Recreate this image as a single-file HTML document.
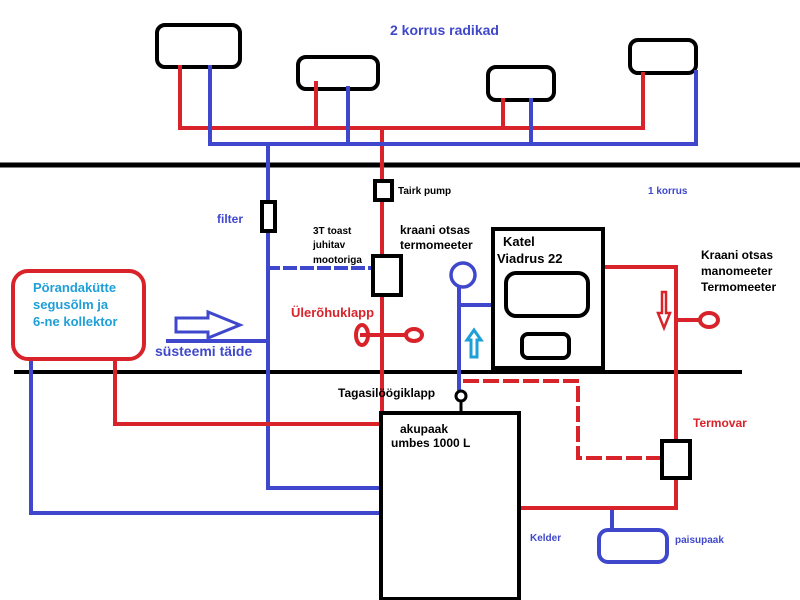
<!DOCTYPE html>
<html><head><meta charset="utf-8"><style>
body{margin:0;background:#fff}
svg{display:block}
text{font-family:"Liberation Sans",sans-serif;font-weight:bold}
</style></head><body>
<svg width="800" height="600" viewBox="0 0 800 600">
<g fill="none" stroke-linecap="square">
<!-- floors -->
<line x1="0" y1="165" x2="800" y2="165" stroke="#000" stroke-width="5"/>
<line x1="16" y1="372" x2="740" y2="372" stroke="#000" stroke-width="4"/>
<!-- radiators -->
<g stroke="#000" stroke-width="4">
<rect x="157" y="25" width="83" height="42" rx="8"/>
<rect x="298" y="57" width="80" height="32" rx="8"/>
<rect x="488" y="67" width="66" height="33" rx="8"/>
<rect x="630" y="40" width="66" height="33" rx="8"/>
</g>
<g stroke="#d9232a" stroke-width="4">
<polyline points="180,67 180,128 643,128 643,74"/>
<line x1="316" y1="83" x2="316" y2="128"/>
<line x1="503" y1="100" x2="503" y2="128"/>
<line x1="382" y1="128" x2="382" y2="595"/>
</g>
<g stroke="#3f48cc" stroke-width="4">
<polyline points="210,67 210,144 696,144 696,72"/>
<line x1="348" y1="88" x2="348" y2="144"/>
<line x1="531" y1="100" x2="531" y2="144"/>
<polyline points="268,144 268,488 380,488"/>
<line x1="268" y1="268" x2="372" y2="268" stroke-dasharray="10,7"/>
<polyline points="31,360 31,513 380,513"/>
<polyline points="168,341 268,341"/>
<polygon points="176,318 208,318 208,312 240,325 208,338 208,332 176,332" stroke-width="3"/>
<polyline points="459,287 459,390"/>
<line x1="459" y1="305" x2="492" y2="305"/>
<circle cx="463" cy="275" r="12" stroke-width="3.5"/>
<line x1="612" y1="508" x2="612" y2="530"/>
<rect x="599" y="530" width="68" height="32" rx="9"/>
</g>
<!-- red lines right -->
<g stroke="#d9232a" stroke-width="4">
<polyline points="115,360 115,424 380,424"/>
<polyline points="605,267 676,267 676,440"/>
<polyline points="676,478 676,508 519,508"/>
<polyline points="465,381 578,381 578,458 661,458" stroke-dasharray="12,8"/>
<line x1="362" y1="335" x2="406" y2="335"/>
<ellipse cx="362" cy="335" rx="6" ry="10"/>
<ellipse cx="414" cy="335" rx="8" ry="6"/>
<line x1="676" y1="320" x2="700" y2="320"/>
<ellipse cx="709" cy="320" rx="9" ry="7"/>
<polygon points="662,292 666,292 666,313 670,313 664,328 658,313 662,313" stroke-width="2.5"/>
<rect x="13" y="271" width="131" height="88" rx="15" stroke-width="4"/>
</g>
<polygon points="471,345 471,340 467,340 474,330 481,340 477,340 477,345 477,357 471,357" stroke="#1e9fd8" stroke-width="3"/>
<!-- black parts -->
<g stroke="#000" stroke-width="4">
<rect x="262" y="202" width="13" height="29" fill="#fff"/>
<rect x="375" y="181" width="17" height="19" fill="#fff"/>
<rect x="373" y="256" width="28" height="39" fill="#fff"/>
<rect x="493" y="229" width="110" height="139" fill="#fff"/>
<rect x="506" y="273" width="82" height="43" rx="10"/>
<rect x="522" y="334" width="47" height="24" rx="6"/>
<rect x="381" y="413" width="138" height="186" fill="#fff"/>
<rect x="662" y="441" width="28" height="37" fill="#fff"/>
<circle cx="461" cy="396" r="5" stroke-width="3"/>
<line x1="461" y1="401" x2="461" y2="412" stroke-width="3"/>
</g>
</g>
<!-- text -->
<text x="390" y="35" font-size="14" fill="#3f48cc">2 korrus radikad</text>
<text x="648" y="194" font-size="10" fill="#3f48cc">1 korrus</text>
<text x="398" y="194" font-size="10" fill="#000">Tairk pump</text>
<text x="217" y="223" font-size="12" fill="#3f48cc">filter</text>
<g font-size="10" fill="#000"><text x="313" y="234">3T toast</text><text x="313" y="248">juhitav</text><text x="313" y="263">mootoriga</text></g>
<g font-size="12" fill="#000"><text x="400" y="234">kraani otsas</text><text x="400" y="249">termomeeter</text></g>
<g font-size="13" fill="#000"><text x="503" y="246">Katel</text><text x="497" y="263">Viadrus 22</text></g>
<g font-size="12" fill="#000"><text x="701" y="259">Kraani otsas</text><text x="701" y="275">manomeeter</text><text x="701" y="291">Termomeeter</text></g>
<g font-size="13" fill="#1e9fd8"><text x="33" y="292">Pörandakütte</text><text x="33" y="309">segusõlm ja</text><text x="33" y="326">6-ne kollektor</text></g>
<text x="291" y="317" font-size="13" fill="#d9232a">Ülerõhuklapp</text>
<text x="155" y="356" font-size="14" fill="#3f48cc">süsteemi täide</text>
<text x="338" y="397" font-size="12" fill="#000">Tagasilöögiklapp</text>
<g font-size="12" fill="#000"><text x="400" y="433">akupaak</text><text x="391" y="447">umbes 1000 L</text></g>
<text x="693" y="427" font-size="12" fill="#d9232a">Termovar</text>
<text x="530" y="541" font-size="10" fill="#3f48cc">Kelder</text>
<text x="675" y="543" font-size="10" fill="#3f48cc">paisupaak</text>
</svg>
</body></html>
